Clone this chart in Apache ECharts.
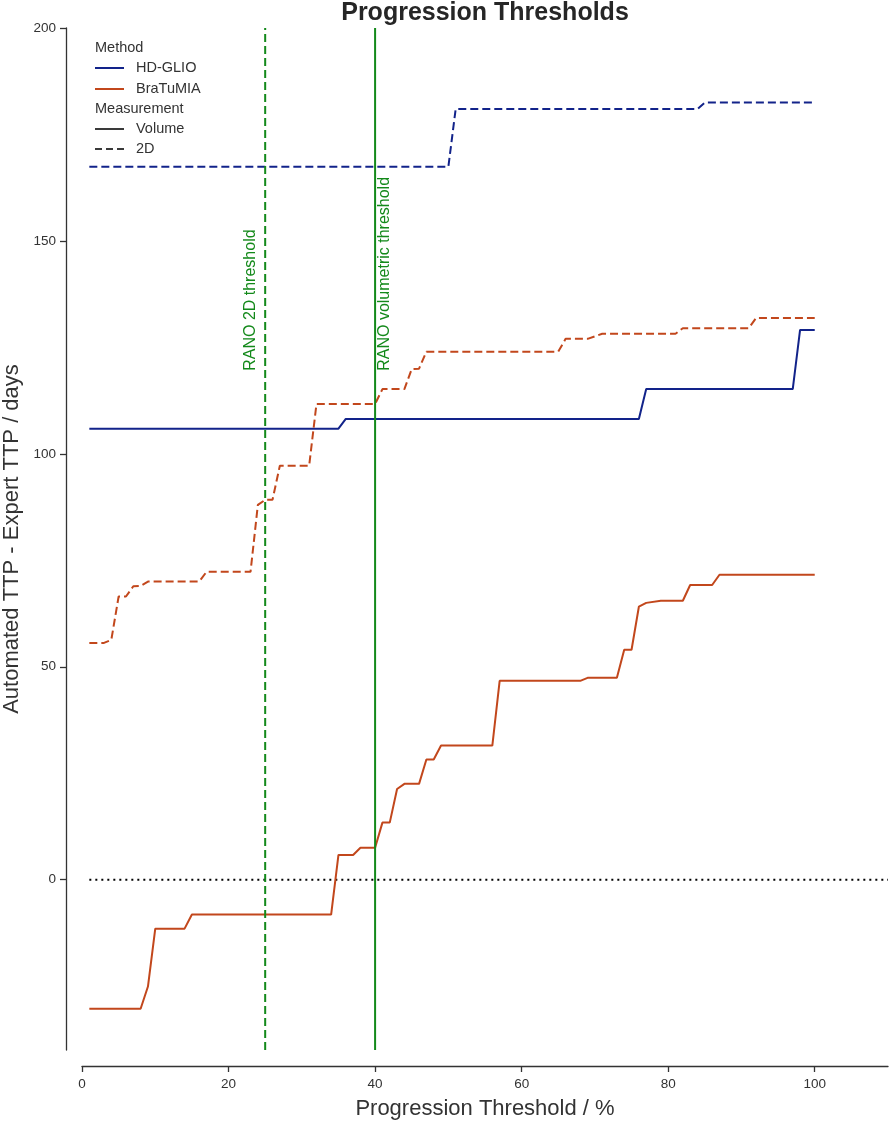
<!DOCTYPE html>
<html>
<head>
<meta charset="utf-8">
<title>Progression Thresholds</title>
<script src="https://cdn.jsdelivr.net/npm/echarts@6/dist/echarts.min.js"></script>
<style>
  html, body { margin: 0; padding: 0; background: #fff; }
  #main { width: 891px; height: 1121px; }
</style>
</head>
<body>
<div id="main"></div>
<script>
// 数据 (x = progression threshold %, y = TTP difference in days)
const hdGlioVolume = [[1, 105.9], [35, 105.9], [36, 108.2], [76, 108.2], [77, 115.2], [97, 115.2], [98, 129.1], [100, 129.1]]
const hdGlio2D = [[1, 167.4], [50, 167.4], [51, 181], [84, 181], [85, 182.5], [100, 182.5]]
const braTuMIAVolume = [
  [1, -30.3], [8, -30.3], [9, -25.1], [10, -11.5], [14, -11.5], [15, -8.2], [34, -8.2], [35, 5.8],
  [37, 5.8], [38, 7.5], [40, 7.5], [41, 13.4], [42, 13.4], [43, 21.3], [44, 22.5], [46, 22.5],
  [47, 28.2], [48, 28.2], [49, 31.5], [56, 31.5], [57, 46.7], [68, 46.7], [69, 47.4], [73, 47.4],
  [74, 54], [75, 54], [76, 64.1], [77, 65], [79, 65.5], [82, 65.5], [83, 69.2], [86, 69.2],
  [87, 71.6], [100, 71.6]
]
const braTuMIA2D = [
  [1, 55.6], [3, 55.6], [4, 56.3], [5, 66.5], [6, 66.5], [7, 68.9], [8, 69], [9, 70], [16, 70],
  [17, 72.3], [23, 72.3], [24, 88], [25, 89.2], [26, 89.2], [27, 97.2], [31, 97.2], [32, 111.7],
  [40, 111.7], [41, 115.2], [44, 115.2], [45, 119.9], [46, 120], [47, 124], [65, 124], [66, 127],
  [69, 127], [71, 128.2], [81, 128.2], [82, 129.5], [91, 129.5], [92, 131.9], [100, 131.9]
]
const zeroLine = [[1, 0], [110, 0]]
const ranoThresholds = { twoD: 25, volumetric: 40 }
const xTicks = [0, 20, 40, 60, 80, 100]
const yTicks = [0, 50, 100, 150, 200]
const xRange = [0, 110]
const yRange = [-40, 200]

// 颜色
const navy = '#12238a'
const rust = '#c2471c'
const green = '#13891a'
const ink = '#333333'
const font = 'Liberation Sans, Arial, sans-serif'

const chart = echarts.init(document.getElementById('main'), null, { renderer: 'canvas' })

function vline(x, dashed, name) {
  return {
    name: name,
    type: 'line',
    data: [[x, yRange[0]], [x, yRange[1]]],
    symbol: 'none',
    silent: true,
    z: 5,
    lineStyle: { color: green, width: 2, type: dashed ? [8, 4] : 'solid' }
  }
}

function dataLine(name, data, color, dashed) {
  return {
    name: name,
    type: 'line',
    data: data,
    symbol: 'none',
    silent: true,
    z: 3,
    lineStyle: { color: color, width: 2, type: dashed ? [8, 4] : 'solid' }
  }
}

chart.setOption({
  animation: false,
  backgroundColor: '#fff',
  textStyle: { fontFamily: font },
  grid: { left: 82, right: 3, top: 28, bottom: 71, containLabel: false, outerBoundsMode: 'none' },
  xAxis: {
    type: 'value',
    min: xRange[0],
    max: xRange[1],
    offset: 16,
    name: 'Progression Threshold / %',
    nameLocation: 'middle',
    nameGap: 32,
    nameTextStyle: { fontSize: 22, color: ink, fontFamily: font },
    splitLine: { show: false },
    axisLine: { onZero: false, lineStyle: { color: ink, width: 1.3 } },
    axisTick: { customValues: xTicks, length: 6, lineStyle: { color: ink, width: 1.3 } },
    axisLabel: { customValues: xTicks, fontSize: 13.5, color: ink, margin: 11 }
  },
  yAxis: {
    type: 'value',
    min: yRange[0],
    max: yRange[1],
    offset: 16,
    name: 'Automated TTP - Expert TTP / days',
    nameLocation: 'middle',
    nameGap: 37,
    nameTextStyle: { fontSize: 22, color: ink, fontFamily: font },
    splitLine: { show: false },
    axisLine: { show: true, onZero: false, lineStyle: { color: ink, width: 1.3 } },
    axisTick: { show: true, customValues: yTicks, length: 6, lineStyle: { color: ink, width: 1.3 } },
    axisLabel: { customValues: yTicks, fontSize: 13.5, color: ink, margin: 10 }
  },
  series: [
    {
      name: 'zero',
      type: 'line',
      data: zeroLine,
      symbol: 'none',
      silent: true,
      z: 2,
      lineStyle: { color: '#000', width: 2, type: [2, 4] }
    },
    dataLine('HD-GLIO Volume', hdGlioVolume, navy, false),
    dataLine('HD-GLIO 2D', hdGlio2D, navy, true),
    dataLine('BraTuMIA Volume', braTuMIAVolume, rust, false),
    dataLine('BraTuMIA 2D', braTuMIA2D, rust, true),
    vline(ranoThresholds.twoD, true, 'RANO 2D'),
    vline(ranoThresholds.volumetric, false, 'RANO volumetric')
  ]
})

// 标题, 阈值标签 和 图例 (用 graphic 画)
const labelY = 119.5
const p2d = chart.convertToPixel({ gridIndex: 0 }, [ranoThresholds.twoD, labelY])
const pVol = chart.convertToPixel({ gridIndex: 0 }, [ranoThresholds.volumetric, labelY])

const legendItems = [
  { text: 'Method', y: 48 },
  { text: 'HD-GLIO', y: 68, color: navy },
  { text: 'BraTuMIA', y: 89, color: rust },
  { text: 'Measurement', y: 109 },
  { text: 'Volume', y: 129, color: '#3a3a3a' },
  { text: '2D', y: 149, color: '#3a3a3a', dashed: true }
]

const graphics = [
  {
    type: 'text',
    x: 485,
    y: 13,
    style: { text: 'Progression Thresholds', fill: '#262626', font: 'bold 25px ' + font, textAlign: 'center', textVerticalAlign: 'middle' }
  },
  {
    type: 'text',
    x: p2d[0] - 15,
    y: p2d[1],
    rotation: Math.PI / 2,
    style: { text: 'RANO 2D threshold', fill: green, font: '16px ' + font, textAlign: 'left', textVerticalAlign: 'middle' }
  },
  {
    type: 'text',
    x: pVol[0] + 10,
    y: pVol[1],
    rotation: Math.PI / 2,
    style: { text: 'RANO volumetric threshold', fill: green, font: '16px ' + font, textAlign: 'left', textVerticalAlign: 'middle' }
  }
]

for (let item of legendItems) {
  if (item.color) {
    graphics.push({
      type: 'line',
      shape: { x1: 95, y1: item.y, x2: 124, y2: item.y },
      style: { stroke: item.color, lineWidth: 2, lineDash: item.dashed ? [7, 4] : null }
    })
    graphics.push({
      type: 'text',
      x: 136,
      y: item.y,
      style: { text: item.text, fill: ink, font: '14.5px ' + font, textVerticalAlign: 'middle' }
    })
  } else {
    graphics.push({
      type: 'text',
      x: 95,
      y: item.y,
      style: { text: item.text, fill: ink, font: '14.5px ' + font, textVerticalAlign: 'middle' }
    })
  }
}

chart.setOption({ graphic: graphics })
</script>
</body>
</html>
